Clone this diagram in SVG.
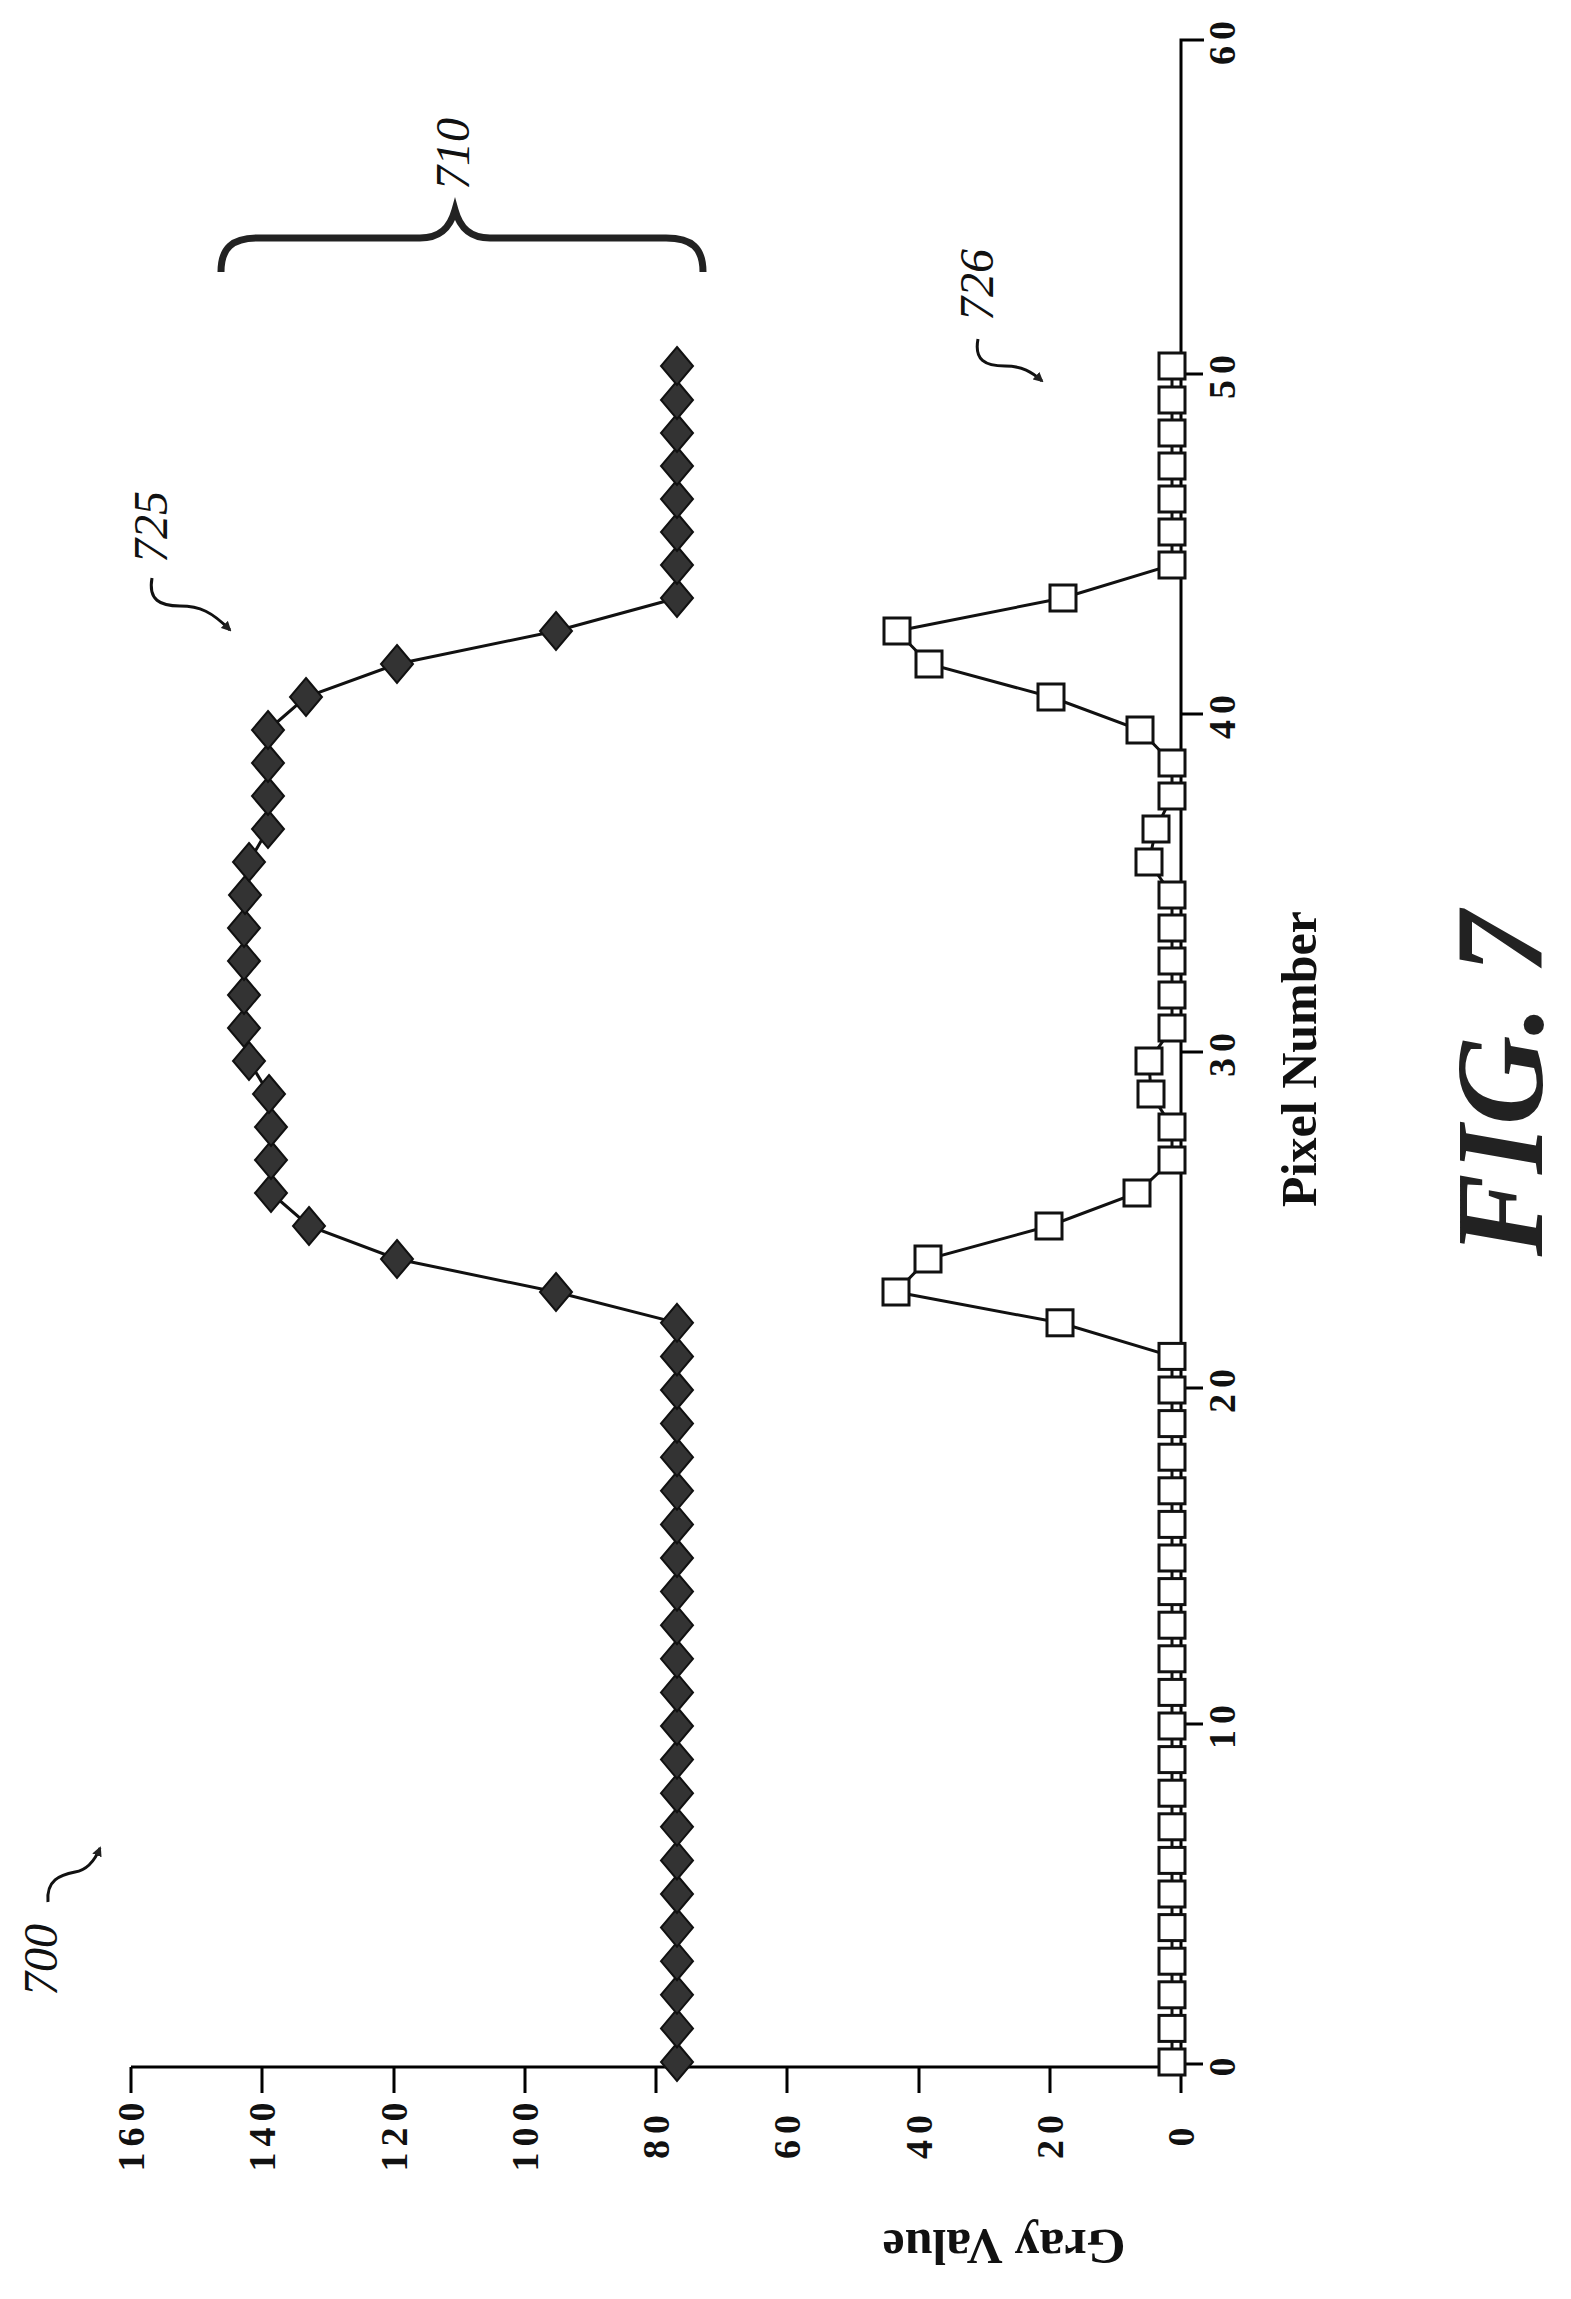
<svg xmlns="http://www.w3.org/2000/svg" width="1571" height="2299" viewBox="0 0 1571 2299">
<style>
.ax{stroke:#000;stroke-width:3;fill:none}
.ln{stroke:#111;stroke-width:3;fill:none}
.t{font-family:"Liberation Serif",serif;font-weight:bold;font-size:38px;fill:#111;letter-spacing:6px}
.lab{font-family:"Liberation Serif",serif;font-weight:bold;font-size:50px;fill:#111}
.ref{font-family:"Liberation Serif",serif;font-style:italic;font-size:48px;fill:#111}
.fig{font-family:"Liberation Serif",serif;font-style:italic;font-weight:bold;font-size:124px;fill:#222}
.sq{fill:#fff;stroke:#111;stroke-width:3}
.dm{fill:#333;stroke:#111;stroke-width:2}
</style>
<defs>
<path id="d" class="dm" d="M0,-19 L16,0 L0,19 L-16,0 Z"/>
<rect id="s" class="sq" x="-13" y="-13" width="26" height="26"/>
<marker id="ah" markerWidth="10" markerHeight="10" refX="8" refY="5" orient="auto" markerUnits="userSpaceOnUse"><path d="M0,0 L10,5 L0,10 Z" fill="#222"/></marker>
</defs>
<g id="axes">
<path class="ax" d="M131,2067 H1181 V40 H1204"/>
<path class="ax" d="M131,2067 v26 M262,2067 v26 M394,2067 v26 M525,2067 v26 M656,2067 v26 M787,2067 v26 M919,2067 v26 M1050,2067 v26 M1181,2067 v26"/>
<path class="ax" d="M1181,1724 h22 M1181,1388 h22 M1181,1052 h22 M1181,714 h22 M1181,374 h22"/>
<path class="ax" d="M1181,2064 h22"/>
</g>
<g id="gray-labels" class="t" text-anchor="middle">
<text transform="translate(131,2134) rotate(-90)" dominant-baseline="central">160</text>
<text transform="translate(262,2134) rotate(-90)" dominant-baseline="central">140</text>
<text transform="translate(394,2134) rotate(-90)" dominant-baseline="central">120</text>
<text transform="translate(525,2134) rotate(-90)" dominant-baseline="central">100</text>
<text transform="translate(656,2134) rotate(-90)" dominant-baseline="central">80</text>
<text transform="translate(787,2134) rotate(-90)" dominant-baseline="central">60</text>
<text transform="translate(919,2134) rotate(-90)" dominant-baseline="central">40</text>
<text transform="translate(1050,2134) rotate(-90)" dominant-baseline="central">20</text>
<text transform="translate(1181,2134) rotate(-90)" dominant-baseline="central">0</text>
</g>
<g id="pixel-labels" class="t" text-anchor="middle">
<text transform="translate(1222,2064) rotate(-90)" dominant-baseline="central">0</text>
<text transform="translate(1222,1724) rotate(-90)" dominant-baseline="central">10</text>
<text transform="translate(1222,1388) rotate(-90)" dominant-baseline="central">20</text>
<text transform="translate(1222,1052) rotate(-90)" dominant-baseline="central">30</text>
<text transform="translate(1222,714) rotate(-90)" dominant-baseline="central">40</text>
<text transform="translate(1222,374) rotate(-90)" dominant-baseline="central">50</text>
<text transform="translate(1222,40) rotate(-90)" dominant-baseline="central">60</text>
</g>
<g id="titles">
<text class="lab" text-anchor="middle" dominant-baseline="central" transform="translate(1299,1059) rotate(-90)">Pixel Number</text>
<text class="lab" text-anchor="middle" dominant-baseline="central" transform="translate(1004,2247) rotate(180)">Gray Value</text>
<text class="fig" text-anchor="middle" dominant-baseline="central" transform="translate(1500,1084) rotate(-90)">FIG. 7</text>
</g>
<g id="series-725">
<polyline class="ln" points="677,2062 677,1322.8 556,1292 397,1259 309,1226 271,1193 271,1160 271,1127 269,1094 249,1061 244,1028 244,995 244,961 244,928 245,895 249,862 268,829 268,796 268,763 268,730 306,697 397,664 556,631 677,598 677,366"/>
<use href="#d" x="677" y="2062"/><use href="#d" x="677" y="2028.4"/><use href="#d" x="677" y="1994.8"/><use href="#d" x="677" y="1961.2"/><use href="#d" x="677" y="1927.6"/><use href="#d" x="677" y="1894"/><use href="#d" x="677" y="1860.4"/><use href="#d" x="677" y="1826.8"/><use href="#d" x="677" y="1793.2"/><use href="#d" x="677" y="1759.6"/><use href="#d" x="677" y="1726"/><use href="#d" x="677" y="1692.4"/><use href="#d" x="677" y="1658.8"/><use href="#d" x="677" y="1625.2"/><use href="#d" x="677" y="1591.6"/><use href="#d" x="677" y="1558"/><use href="#d" x="677" y="1524.4"/><use href="#d" x="677" y="1490.8"/><use href="#d" x="677" y="1457.2"/><use href="#d" x="677" y="1423.6"/><use href="#d" x="677" y="1390"/><use href="#d" x="677" y="1356.4"/><use href="#d" x="677" y="1322.8"/>
<use href="#d" x="556" y="1292"/><use href="#d" x="397" y="1259"/><use href="#d" x="309" y="1226"/><use href="#d" x="271" y="1193"/><use href="#d" x="271" y="1160"/><use href="#d" x="271" y="1127"/><use href="#d" x="269" y="1094"/><use href="#d" x="249" y="1061"/><use href="#d" x="244" y="1028"/><use href="#d" x="244" y="995"/><use href="#d" x="244" y="961"/><use href="#d" x="244" y="928"/><use href="#d" x="245" y="895"/><use href="#d" x="249" y="862"/><use href="#d" x="268" y="829"/><use href="#d" x="268" y="796"/><use href="#d" x="268" y="763"/><use href="#d" x="268" y="730"/><use href="#d" x="306" y="697"/><use href="#d" x="397" y="664"/><use href="#d" x="556" y="631"/>
<use href="#d" x="677" y="598"/><use href="#d" x="677" y="565"/><use href="#d" x="677" y="532"/><use href="#d" x="677" y="499"/><use href="#d" x="677" y="466"/><use href="#d" x="677" y="433"/><use href="#d" x="677" y="400"/><use href="#d" x="677" y="366"/>
</g>
<g id="series-726">
<polyline class="ln" points="1172,2062 1172,1356.4 1060,1322.8 896,1292 928,1259 1049,1226 1137,1193 1172,1160 1172,1127 1151,1094 1149,1061 1172,1028 1172,895 1149,862 1156,829 1172,796 1172,763 1140,730 1051,697 929,664 897,631 1063,598 1172,565 1172,366"/>
<use href="#s" x="1172" y="2062"/><use href="#s" x="1172" y="2028.4"/><use href="#s" x="1172" y="1994.8"/><use href="#s" x="1172" y="1961.2"/><use href="#s" x="1172" y="1927.6"/><use href="#s" x="1172" y="1894"/><use href="#s" x="1172" y="1860.4"/><use href="#s" x="1172" y="1826.8"/><use href="#s" x="1172" y="1793.2"/><use href="#s" x="1172" y="1759.6"/><use href="#s" x="1172" y="1726"/><use href="#s" x="1172" y="1692.4"/><use href="#s" x="1172" y="1658.8"/><use href="#s" x="1172" y="1625.2"/><use href="#s" x="1172" y="1591.6"/><use href="#s" x="1172" y="1558"/><use href="#s" x="1172" y="1524.4"/><use href="#s" x="1172" y="1490.8"/><use href="#s" x="1172" y="1457.2"/><use href="#s" x="1172" y="1423.6"/><use href="#s" x="1172" y="1390"/><use href="#s" x="1172" y="1356.4"/>
<use href="#s" x="1060" y="1322.8"/><use href="#s" x="896" y="1292"/><use href="#s" x="928" y="1259"/><use href="#s" x="1049" y="1226"/><use href="#s" x="1137" y="1193"/><use href="#s" x="1172" y="1160"/><use href="#s" x="1172" y="1127"/><use href="#s" x="1151" y="1094"/><use href="#s" x="1149" y="1061"/><use href="#s" x="1172" y="1028"/><use href="#s" x="1172" y="995"/><use href="#s" x="1172" y="961"/><use href="#s" x="1172" y="928"/><use href="#s" x="1172" y="895"/><use href="#s" x="1149" y="862"/><use href="#s" x="1156" y="829"/><use href="#s" x="1172" y="796"/><use href="#s" x="1172" y="763"/><use href="#s" x="1140" y="730"/><use href="#s" x="1051" y="697"/><use href="#s" x="929" y="664"/><use href="#s" x="897" y="631"/><use href="#s" x="1063" y="598"/><use href="#s" x="1172" y="565"/><use href="#s" x="1172" y="532"/><use href="#s" x="1172" y="499"/><use href="#s" x="1172" y="466"/><use href="#s" x="1172" y="433"/><use href="#s" x="1172" y="400"/><use href="#s" x="1172" y="366"/>
</g>
<g id="ref-700">
<text class="ref" text-anchor="middle" dominant-baseline="central" transform="translate(40,1960) rotate(-90)">700</text>
<path class="ln" d="M48,1902 C46,1880 60,1875 75,1872 C88,1870 95,1860 100,1848" marker-end="url(#ah)"/>
</g>
<g id="ref-725">
<text class="ref" text-anchor="middle" dominant-baseline="central" transform="translate(150,527) rotate(-90)">725</text>
<path class="ln" d="M152,578 C148,600 160,606 180,606 C200,606 212,612 230,630" marker-end="url(#ah)"/>
</g>
<g id="ref-710">
<text class="ref" text-anchor="middle" dominant-baseline="central" transform="translate(452,154) rotate(-90)">710</text>
<path d="M221,272 C221,248 232,238 258,238 L420,238 C440,238 450,228 455,210 C460,228 470,238 490,238 L666,238 C692,238 703,248 703,272" fill="none" stroke="#222" stroke-width="7"/>
</g>
<g id="ref-726">
<text class="ref" text-anchor="middle" dominant-baseline="central" transform="translate(976,285) rotate(-90)">726</text>
<path class="ln" d="M978,339 C974,360 985,366 1005,366 C1022,366 1032,372 1042,381" marker-end="url(#ah)"/>
</g>
</svg>
